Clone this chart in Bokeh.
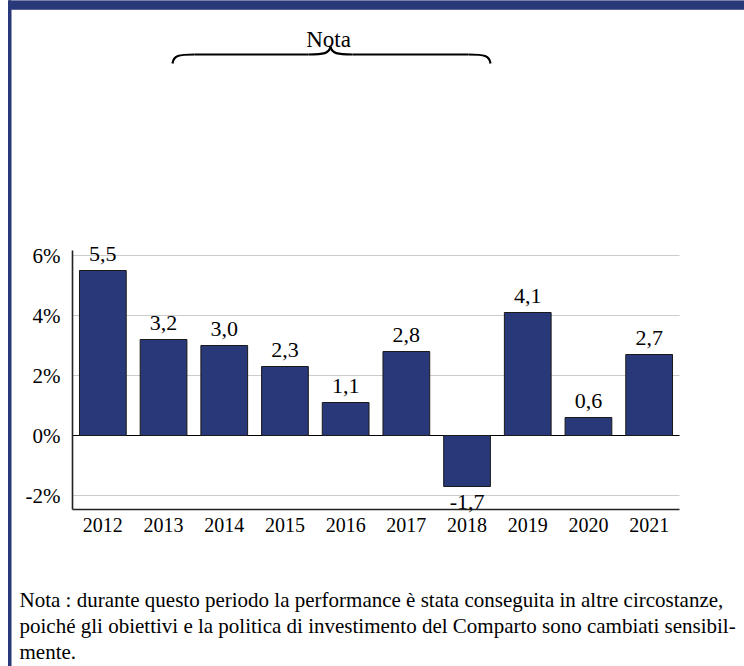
from bokeh.plotting import figure
from bokeh.models import ColumnDataSource, Range1d, FixedTicker, LabelSet, Grid
from bokeh.embed import file_html
from bokeh.resources import INLINE
from bokeh.core.properties import value

# ---- data ----
years = ["2012", "2013", "2014", "2015", "2016", "2017", "2018", "2019", "2020", "2021"]
returns = [5.5, 3.2, 3.0, 2.3, 1.1, 2.8, -1.7, 4.1, 0.6, 2.7]
y_ticks = [-2, 0, 2, 4, 6]
y_tick_labels = ["-2%", "0%", "2%", "4%", "6%"]
note_title = "Nota"
note_lines = [
    "Nota : durante questo periodo la performance è stata conseguita in altre circostanze,",
    "poiché gli obiettivi e la politica di investimento del Comparto sono cambiati sensibil-",
    "mente.",
]

NAVY = "#283878"
FONT = "Liberation Serif"
W, H = 744, 666

pos = list(range(len(years)))
labels = [f"{v:.1f}".replace(".", ",") for v in returns]
offsets = [17 if v >= 0 else -15 for v in returns]
src = ColumnDataSource(dict(x=pos, year=years, ret=returns, lbl=labels, off=offsets))

n = len(years)
unit = 60.7  # pixels per category slot
p = figure(width=W, height=H,
           x_range=Range1d(-0.5 - 72 / unit, n - 0.5 + 65 / unit),
           y_range=Range1d(-7.7, 14.5),
           output_backend="svg", toolbar_location=None, min_border=0,
           border_fill_color="white", background_fill_color="white", outline_line_color=None)
# page-pixel ranges for the decorations around the chart
p.extra_x_ranges = {"px": Range1d(0, W)}
p.extra_y_ranges = {"px": Range1d(H, 0)}

# grid
p.xgrid.grid_line_color = None
p.ygrid.ticker = FixedTicker(ticks=y_ticks)
p.ygrid.grid_line_color = "#cccccc"
p.ygrid.grid_line_width = 1
p.ygrid.cross_bounds = (-0.5, n - 0.5)
zero = Grid(dimension=1, ticker=FixedTicker(ticks=[0]), grid_line_color="black",
            grid_line_width=1.2, cross_bounds=(-0.5, n - 0.5))
p.add_layout(zero)

# bars and labels
p.vbar(x="x", top="ret", bottom=0, width=0.77, source=src,
       fill_color=NAVY, line_color="#1a1a1a", line_width=1)
p.add_layout(LabelSet(x="x", y="ret", text="lbl", y_offset="off", source=src,
                      text_font=value(FONT), text_font_size="22px", text_align="center",
                      text_baseline="middle", text_color="black"))

# axes placed inside the frame
p.yaxis.ticker = FixedTicker(ticks=y_ticks)
p.yaxis.major_label_overrides = dict(zip(y_ticks, y_tick_labels))
p.yaxis.fixed_location = -0.5
p.yaxis.bounds = (-2.45, 6.17)
p.xaxis.ticker = FixedTicker(ticks=pos)
p.xaxis.major_label_overrides = dict(zip(pos, years))
p.xaxis.fixed_location = -2.45
p.xaxis.bounds = (-0.5, n - 0.5)
p.axis.major_tick_line_color = None
p.axis.minor_tick_line_color = None
p.axis.axis_line_color = "#222222"
p.axis.axis_line_width = 1.6
p.axis.major_label_text_font = FONT
p.axis.major_label_text_color = "black"
p.yaxis.major_label_text_font_size = "21px"
p.xaxis.major_label_text_font_size = "20px"
p.yaxis.major_label_standoff = 6
p.xaxis.major_label_standoff = 3

# header strip and left border
p.quad(left=[8], right=[W], top=[0], bottom=[8.7], color=NAVY,
       x_range_name="px", y_range_name="px")
p.quad(left=[8], right=[10.5], top=[0], bottom=[H], color=NAVY,
       x_range_name="px", y_range_name="px")

# "Nota" and its brace
p.text(x=[328], y=[39], text=[note_title], text_font=value(FONT), text_font_size="23px",
       text_align="center", text_baseline="alphabetic", text_color="black",
       x_range_name="px", y_range_name="px")
bz = dict(line_color="black", line_width=2.2, x_range_name="px", y_range_name="px")
p.bezier(x0=[172, 308, 330, 468], y0=[63, 54, 46, 54],
         x1=[194, 330, 352, 490], y1=[54, 46, 54, 63],
         cx0=[173, 323, 331, 484], cy0=[55, 54, 53, 54],
         cx1=[178, 329, 337, 489], cy1=[54, 53, 54, 55], **bz)
p.segment(x0=[194, 352], y0=[54, 54], x1=[308, 468], y1=[54, 54], **bz)

# bottom note
p.text(x=[19, 19, 19], y=[599, 625, 651], text=note_lines, text_font=value(FONT),
       text_font_size="21px", text_align="left", text_baseline="alphabetic",
       text_color="black", x_range_name="px", y_range_name="px")

open("out.html", "w").write(file_html(p, INLINE))
